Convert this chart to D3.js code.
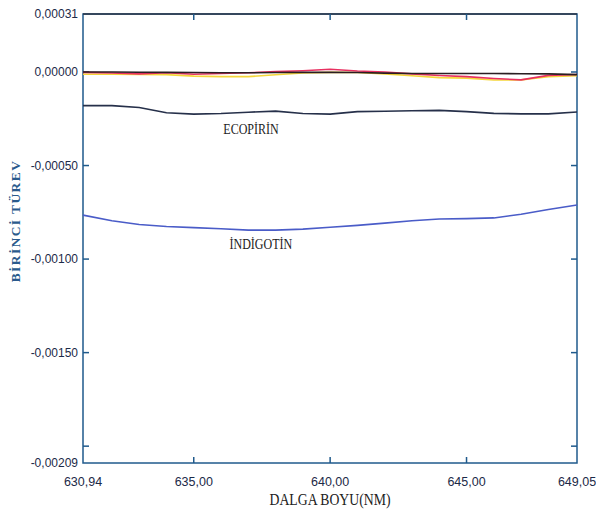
<!DOCTYPE html>
<html>
<head>
<meta charset="utf-8">
<script src="https://cdn.jsdelivr.net/npm/d3@7"></script>
<style>
  body { margin: 0; background: #fff; }
  svg { display: block; }
</style>
</head>
<body>
<svg id="chart" width="596" height="516"></svg>
<script>
// wavelength grid (nm)
var wavelength = [630.94, 632, 633, 634, 635, 636, 637, 638, 639, 640,
                  641, 642, 643, 644, 645, 646, 647, 648, 649.05];

var blackSeries = [0, 0, -0.000001, -0.000002, -0.000003, -0.000004, -0.000004, -0.000003, -0.000002, -0.000002,
                   -0.000003, -0.000006, -0.000008, -0.000008, -0.000008, -0.000008, -0.000009, -0.000010, -0.000014];

var redSeries = [-0.000002, -0.000005, -0.000010, -0.000004, -0.000012, -0.000008, -0.000004, 0.000002, 0.000007, 0.000015,
                 0.000005, 0.000000, -0.000010, -0.000019, -0.000025, -0.000035, -0.000042, -0.000018, -0.000013];

var yellowSeries = [-0.000012, -0.000012, -0.000013, -0.000014, -0.000022, -0.000025, -0.000025, -0.000015, -0.000005, -0.000002,
                    -0.000003, -0.000010, -0.000020, -0.000030, -0.000033, -0.000043, -0.000042, -0.000025, -0.000020];

var ecopirin = [-0.000180, -0.000180, -0.000190, -0.000218, -0.000225, -0.000222, -0.000215, -0.000209, -0.000222, -0.000225,
                -0.000212, -0.000210, -0.000207, -0.000205, -0.000212, -0.000221, -0.000224, -0.000224, -0.000214];

var indigotin = [-0.000765, -0.000795, -0.000815, -0.000826, -0.000832, -0.000838, -0.000845, -0.000845, -0.000840, -0.000830,
                 -0.000820, -0.000808, -0.000795, -0.000786, -0.000784, -0.000780, -0.000760, -0.000735, -0.000711];

var xTickValues = [630.94, 635, 640, 645, 649.05];
var xInnerTicks = [635, 640, 645];
var yTickValues = [0.00031, 0, -0.0005, -0.001, -0.0015, -0.00209];
var yInnerTicks = [0, -0.0005, -0.001, -0.0015, -0.002];

var seriesLabels = [
  { text: "ECOPİRİN", x: 637.1, y: -0.000332 },
  { text: "İNDİGOTİN", x: 637.46, y: -0.000947 }
];

///////////////////////////////////////////////////////////////////////////////

var margin = { left: 83, right: 19, top: 14, bottom: 53 };
var width = 596, height = 516;
var axisColor = "#1f5a8c";
var labelColor = "#1c2a48";

var svg = d3.select("#chart");

var x = d3.scaleLinear()
  .domain([630.94, 649.05])
  .range([margin.left, width - margin.right]);

var y = d3.scaleLinear()
  .domain([-0.00209, 0.00031])
  .range([height - margin.bottom, margin.top]);

var locale = d3.formatLocale({ decimal: ",", thousands: ".", grouping: [3], currency: ["", ""], minus: "-" });
var fmtY = locale.format(".5f");
var fmtX = locale.format(".2f");

// frame
svg.append("rect")
  .attr("x", x.range()[0])
  .attr("y", y.range()[1])
  .attr("width", x.range()[1] - x.range()[0])
  .attr("height", y.range()[0] - y.range()[1])
  .attr("fill", "none")
  .attr("stroke", axisColor)
  .attr("stroke-width", 1.5);

svg.append("line")
  .attr("x1", x.range()[0]).attr("x2", x.range()[1])
  .attr("y1", y.range()[1]).attr("y2", y.range()[1])
  .attr("stroke", "#2b3344")
  .attr("stroke-width", 1.5);

// inner ticks
var tickLen = 6;
var ticks = svg.append("g")
  .attr("stroke", axisColor)
  .attr("stroke-width", 1.5);

xInnerTicks.forEach(function (v) {
  ticks.append("line")
    .attr("x1", x(v)).attr("x2", x(v))
    .attr("y1", y.range()[0]).attr("y2", y.range()[0] - tickLen);
  ticks.append("line")
    .attr("x1", x(v)).attr("x2", x(v))
    .attr("y1", y.range()[1]).attr("y2", y.range()[1] + tickLen);
});

yInnerTicks.forEach(function (v) {
  ticks.append("line")
    .attr("x1", x.range()[0]).attr("x2", x.range()[0] + tickLen)
    .attr("y1", y(v)).attr("y2", y(v));
  ticks.append("line")
    .attr("x1", x.range()[1]).attr("x2", x.range()[1] - tickLen)
    .attr("y1", y(v)).attr("y2", y(v));
});

// tick labels
svg.append("g")
  .selectAll("text")
  .data(yTickValues)
  .enter().append("text")
  .attr("x", x.range()[0] - 5)
  .attr("y", function (d) { return y(d); })
  .attr("dy", "0.35em")
  .attr("text-anchor", "end")
  .attr("font-family", "Liberation Sans, Arial, sans-serif")
  .attr("font-size", 12)
  .attr("fill", labelColor)
  .text(function (d) { return fmtY(d); });

svg.append("g")
  .selectAll("text")
  .data(xTickValues)
  .enter().append("text")
  .attr("x", function (d) { return x(d); })
  .attr("y", y.range()[0] + 23)
  .attr("text-anchor", "middle")
  .attr("font-family", "Liberation Sans, Arial, sans-serif")
  .attr("font-size", 12.5)
  .attr("fill", labelColor)
  .text(function (d) { return fmtX(d); });

// axis titles (condensed serif, as in the scan)
var condensed = function (sel, cx, cy, rot) {
  sel.attr("transform", "translate(" + cx + "," + cy + ")" +
    (rot ? " rotate(" + rot + ")" : "") + " scale(0.86,1)");
};

svg.append("text")
  .call(condensed, (x.range()[0] + x.range()[1]) / 2, height - 11)
  .attr("text-anchor", "middle")
  .attr("font-family", "Liberation Serif, Times New Roman, serif")
  .attr("font-size", 16)
  .attr("fill", "#222")
  .text("DALGA BOYU(NM)");

svg.append("text")
  .attr("transform", "translate(20,221) rotate(-90)")
  .attr("text-anchor", "middle")
  .attr("font-family", "Liberation Serif, Times New Roman, serif")
  .attr("font-weight", "bold")
  .attr("font-size", 13.5)
  .attr("letter-spacing", 1.4)
  .attr("fill", "#2a5a8c")
  .text("BİRİNCİ TÜREV");

// lines
var line = function (values) {
  return d3.line()
    .x(function (d, i) { return x(wavelength[i]); })
    .y(function (d) { return y(d); })(values);
};

var series = [
  { values: indigotin, color: "#4a5cc8", width: 1.6 },
  { values: ecopirin, color: "#26304a", width: 1.6 },
  { values: yellowSeries, color: "#f5d63a", width: 1.6 },
  { values: redSeries, color: "#e83060", width: 1.6 },
  { values: blackSeries, color: "#2a1e22", width: 1.6 }
];

svg.append("g")
  .selectAll("path")
  .data(series)
  .enter().append("path")
  .attr("d", function (s) { return line(s.values); })
  .attr("fill", "none")
  .attr("stroke", function (s) { return s.color; })
  .attr("stroke-width", function (s) { return s.width; });

// series labels
svg.append("g")
  .selectAll("text")
  .data(seriesLabels)
  .enter().append("text")
  .each(function (d) { condensed(d3.select(this), x(d.x), y(d.y)); })
  .attr("text-anchor", "middle")
  .attr("font-family", "Liberation Serif, Times New Roman, serif")
  .attr("font-size", 14)
  .attr("fill", "#222")
  .text(function (d) { return d.text; });
</script>
</body>
</html>
